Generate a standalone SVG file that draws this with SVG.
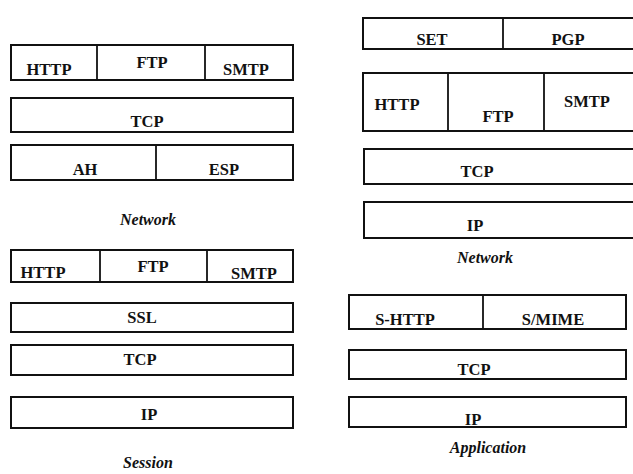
<svg xmlns="http://www.w3.org/2000/svg" width="633" height="474" viewBox="0 0 633 474">
  <style>
    .box { fill: #fff; stroke: #111; stroke-width: 2; }
    .div { stroke: #111; stroke-width: 1.8; }
    .t { font-family: "Liberation Serif", "Times New Roman", serif; font-weight: bold; font-size: 16.5px; fill: #111; text-anchor: middle; }
    .cap { font-family: "Liberation Serif", "Times New Roman", serif; font-weight: bold; font-style: italic; font-size: 16px; fill: #111; text-anchor: middle; }
  </style>
  <rect width="633" height="474" fill="#fff"/>

  <!-- Network layer stack (IPSec) -->
  <g id="ipsec-apps">
    <rect class="box" x="11" y="45" width="282" height="35"/>
    <line class="div" x1="97" y1="45" x2="97" y2="80"/>
    <line class="div" x1="205" y1="45" x2="205" y2="80"/>
    <text class="t" x="49" y="75">HTTP</text>
    <text class="t" x="152" y="68">FTP</text>
    <text class="t" x="246" y="75">SMTP</text>
  </g>
  <g id="ipsec-tcp">
    <rect class="box" x="11" y="98" width="282" height="34"/>
    <text class="t" x="147" y="127">TCP</text>
  </g>
  <g id="ipsec-ip">
    <rect class="box" x="11" y="145" width="282" height="35"/>
    <line class="div" x1="156" y1="145" x2="156" y2="180"/>
    <text class="t" x="85" y="175">AH</text>
    <text class="t" x="224" y="175">ESP</text>
  </g>
  <text class="cap" x="148" y="225">Network</text>

  <!-- Session layer stack (SSL) -->
  <g id="ssl-apps">
    <rect class="box" x="11" y="250" width="282" height="32"/>
    <line class="div" x1="100" y1="250" x2="100" y2="282"/>
    <line class="div" x1="207" y1="250" x2="207" y2="282"/>
    <text class="t" x="43" y="278">HTTP</text>
    <text class="t" x="153" y="272">FTP</text>
    <text class="t" x="254" y="279">SMTP</text>
  </g>
  <g id="ssl-ssl">
    <rect class="box" x="11" y="303" width="282" height="29"/>
    <text class="t" x="142" y="323">SSL</text>
  </g>
  <g id="ssl-tcp">
    <rect class="box" x="11" y="345" width="282" height="30"/>
    <text class="t" x="140" y="365">TCP</text>
  </g>
  <g id="ssl-ip">
    <rect class="box" x="11" y="397" width="282" height="31"/>
    <text class="t" x="149" y="420">IP</text>
  </g>
  <text class="cap" x="148" y="468">Session</text>

  <!-- Network layer stack (application security over IP) -->
  <g id="net-sec">
    <rect class="box" x="363" y="18" width="280" height="31"/>
    <line class="div" x1="503" y1="18" x2="503" y2="49"/>
    <text class="t" x="432" y="45">SET</text>
    <text class="t" x="568" y="45">PGP</text>
  </g>
  <g id="net-apps">
    <rect class="box" x="363" y="73" width="280" height="58"/>
    <line class="div" x1="448" y1="73" x2="448" y2="131"/>
    <line class="div" x1="544" y1="73" x2="544" y2="131"/>
    <text class="t" x="397" y="110">HTTP</text>
    <text class="t" x="498" y="122">FTP</text>
    <text class="t" x="587" y="107">SMTP</text>
  </g>
  <g id="net-tcp">
    <rect class="box" x="364" y="149" width="280" height="35"/>
    <text class="t" x="477" y="177">TCP</text>
  </g>
  <g id="net-ip">
    <rect class="box" x="364" y="202" width="280" height="36"/>
    <text class="t" x="475" y="231">IP</text>
  </g>
  <text class="cap" x="485" y="263">Network</text>

  <!-- Application layer stack -->
  <g id="app-sec">
    <rect class="box" x="349" y="295" width="277" height="34"/>
    <line class="div" x1="483" y1="295" x2="483" y2="329"/>
    <text class="t" x="405" y="325">S-HTTP</text>
    <text class="t" x="553" y="325">S/MIME</text>
  </g>
  <g id="app-tcp">
    <rect class="box" x="349" y="350" width="277" height="29"/>
    <text class="t" x="474" y="375">TCP</text>
  </g>
  <g id="app-ip">
    <rect class="box" x="349" y="397" width="277" height="30"/>
    <text class="t" x="473" y="425">IP</text>
  </g>
  <text class="cap" x="488" y="453">Application</text>
</svg>
